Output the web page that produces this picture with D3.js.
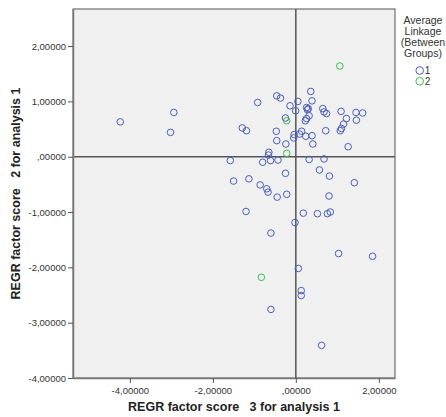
<!DOCTYPE html>
<html>
<head>
<meta charset="utf-8">
<script src="https://cdn.jsdelivr.net/npm/d3@7"></script>
<style>
  body { margin: 0; background: #fff; }
  text { font-family: "Liberation Sans", Arial, sans-serif; }
</style>
</head>
<body>
<svg width="446" height="417"></svg>
<script>
// factor scores, cluster 1
var x1 = [-4.23, -2.94, -3.02, 0.36, -0.46, -0.37, 0.39, -0.92, 0.05, -0.14,
  -0.005, 0.26, 0.30, 0.28, 0.65, 0.68, 0.74, 1.09, 1.45, 1.61,
  0.32, 0.26, 0.23, -0.25, 1.22, 1.46, 1.15, 1.10, 1.07, -1.29,
  -1.19, -0.47, 0.72, 0.14, 0.09, -0.04, -0.05, 0.24, 0.39, -0.46,
  -0.24, 0.41, 1.26, -0.65, -0.66, -1.58, -0.80, -0.61, -0.43, 0.32,
  0.68, 0.57, -0.25, 0.81, -1.50, -1.13, -0.86, 1.41, -0.70, -0.67,
  -0.22, -0.45, 0.80, -1.20, 0.18, 0.52, 0.76, 0.83, -0.02, -0.60,
  1.03, 1.85, 0.06, 0.13, 0.13, -0.60, 0.62];
var y1 = [0.63, 0.80, 0.44, 1.18, 1.10, 1.06, 1.01, 0.98, 1.00, 0.92,
  0.83, 0.89, 0.87, 0.85, 0.87, 0.81, 0.78, 0.82, 0.80, 0.79,
  0.74, 0.69, 0.65, 0.70, 0.69, 0.66, 0.59, 0.51, 0.47, 0.52,
  0.47, 0.46, 0.47, 0.46, 0.41, 0.40, 0.34, 0.37, 0.38, 0.29,
  0.23, 0.23, 0.18, 0.08, 0.03, -0.07, -0.10, -0.07, -0.06, -0.05,
  -0.04, -0.24, -0.30, -0.35, -0.44, -0.40, -0.51, -0.47, -0.58, -0.64,
  -0.68, -0.73, -0.71, -0.99, -1.02, -1.03, -1.03, -1.00, -1.19, -1.38,
  -1.75, -1.80, -2.02, -2.42, -2.51, -2.76, -3.41];
// cluster 2
var x2 = [1.06, -0.22, -0.22, -0.83];
var y2 = [1.64, 0.65, 0.06, -2.18];

var xTicks = [-4, -2, 0, 2];
var yTicks = [2, 1, 0, -1, -2, -3, -4];
var legendTitle = ["Average", "Linkage", "(Between", "Groups)"];
var groups = ["1", "2"];
var colors = ["#4a5fb8", "#3cbd4f"];

var margin = {top: 9, left: 73, right: 51, bottom: 39};
var width = 446 - margin.left - margin.right,
    height = 417 - margin.top - margin.bottom;

var fmt = function(v) {
  var s = d3.format(".5f")(v).replace(".", ",").replace("\u2212", "-");
  return s.replace(/^(-?)0,/, "$1,");
};

var svg = d3.select("svg");
var g = svg.append("g")
  .attr("transform", "translate(" + margin.left + "," + margin.top + ")");

var xScale = d3.scaleLinear().domain([-5.37, 2.39]).range([0, width]);
var yScale = d3.scaleLinear().domain([-4, 2.67]).range([height, 0]);

g.append("rect")
  .attr("width", width).attr("height", height)
  .attr("fill", "#f0f0f0")
  .attr("stroke", "#555").attr("stroke-width", 1);

// reference lines at zero
g.append("line")
  .attr("x1", xScale(0)).attr("x2", xScale(0))
  .attr("y1", 0).attr("y2", height)
  .attr("stroke", "#555").attr("stroke-width", 1.5);
g.append("line")
  .attr("x1", 0).attr("x2", width)
  .attr("y1", yScale(0)).attr("y2", yScale(0))
  .attr("stroke", "#555").attr("stroke-width", 1.5);

var xAxis = g.append("g")
  .attr("transform", "translate(0," + height + ")")
  .call(d3.axisBottom(xScale).tickValues(xTicks).tickFormat(fmt).tickSize(5).tickSizeOuter(0));
var yAxis = g.append("g")
  .call(d3.axisLeft(yScale).tickValues(yTicks).tickFormat(fmt).tickSize(5).tickSizeOuter(0));

[xAxis, yAxis].forEach(function(a) {
  a.select(".domain").attr("stroke", "#777").attr("stroke-width", 1.5);
  a.selectAll(".tick line").attr("stroke", "#555");
  a.selectAll(".tick text")
    .attr("fill", "#333")
    .style("font-family", "'Liberation Sans', Arial, sans-serif")
    .style("font-size", "9.5px");
});
yAxis.selectAll(".tick text").attr("x", -7);
xAxis.selectAll(".tick text").attr("y", 9);

var pts1 = x1.map(function(d, i) { return {x: d, y: y1[i]}; });
var pts2 = x2.map(function(d, i) { return {x: d, y: y2[i]}; });

g.selectAll(".dot1")
  .data(pts1)
  .enter().append("circle")
  .attr("class", "dot1")
  .attr("cx", function(d) { return xScale(d.x); })
  .attr("cy", function(d) { return yScale(d.y); })
  .attr("r", 3.3)
  .attr("fill", "none")
  .attr("stroke", colors[0])
  .attr("stroke-width", 1);

g.selectAll(".dot2")
  .data(pts2)
  .enter().append("circle")
  .attr("class", "dot2")
  .attr("cx", function(d) { return xScale(d.x); })
  .attr("cy", function(d) { return yScale(d.y); })
  .attr("r", 3.3)
  .attr("fill", "none")
  .attr("stroke", colors[1])
  .attr("stroke-width", 1);

// axis titles
svg.append("text")
  .attr("x", margin.left + width / 2)
  .attr("y", 411)
  .attr("text-anchor", "middle")
  .attr("font-weight", "bold")
  .attr("font-size", "12.5px")
  .attr("fill", "#222")
  .attr("xml:space", "preserve")
  .text("REGR factor score   3 for analysis 1");

svg.append("text")
  .attr("transform", "translate(20," + (margin.top + height / 2) + ") rotate(-90)")
  .attr("text-anchor", "middle")
  .attr("font-weight", "bold")
  .attr("font-size", "12.5px")
  .attr("fill", "#222")
  .attr("xml:space", "preserve")
  .text("REGR factor score   2 for analysis 1");

// legend
var leg = svg.append("g");
leg.selectAll(".lt")
  .data(legendTitle)
  .enter().append("text")
  .attr("x", 423)
  .attr("y", function(d, i) { return 24 + i * 11; })
  .attr("text-anchor", "middle")
  .attr("font-size", "10.5px")
  .attr("fill", "#333")
  .text(function(d) { return d; });

var items = leg.selectAll(".li")
  .data(groups)
  .enter().append("g")
  .attr("transform", function(d, i) { return "translate(419.7," + (70.5 + i * 10.7) + ")"; });
items.append("circle")
  .attr("r", 3.8)
  .attr("fill", "none")
  .attr("stroke", function(d, i) { return colors[i]; })
  .attr("stroke-width", 1);
items.append("text")
  .attr("x", 5)
  .attr("y", 3.5)
  .attr("font-size", "10px")
  .attr("fill", "#333")
  .text(function(d) { return d; });
</script>
</body>
</html>
